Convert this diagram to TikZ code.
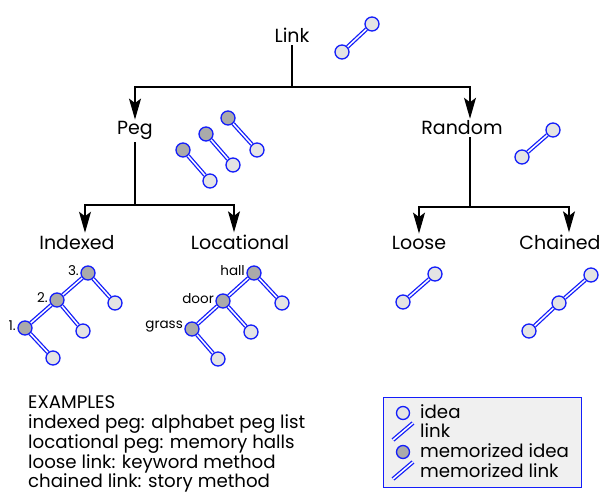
\documentclass[tikz,border=0pt]{standalone}
\usepackage{fontspec}
\setmainfont{Poppins}
\usetikzlibrary{arrows.meta}
\definecolor{ib}{RGB}{20,30,250}
\definecolor{ifill}{RGB}{228,228,228}
\definecolor{mfill}{RGB}{170,170,170}
\definecolor{lbg}{RGB}{240,240,240}
\begin{document}
\begin{tikzpicture}[x=1pt,y=-1pt,
 idea/.style={circle,draw=ib,line width=1.3pt,fill=ifill,minimum size=14pt,inner sep=0pt},
 midea/.style={idea,fill=mfill},
 lnk/.style={draw=ib,double=white,double distance=1.5pt,line width=1.3pt},
 lbl/.style={font=\fontsize{19}{22}\selectfont,inner sep=2pt,anchor=base},
 small/.style={font=\fontsize{13.5}{15}\selectfont,inner sep=1pt},
 leg/.style={font=\fontsize{18.2}{20}\selectfont,inner sep=0pt,anchor=base west},
 ex/.style={font=\fontsize{18.2}{20}\selectfont,inner sep=0pt,anchor=base west},
 tree/.style={line width=1.2pt,draw=black},
 arr/.style={tree,-{Stealth[length=21pt,width=12pt,inset=4.5pt]}},
]
\useasboundingbox (0,0) rectangle (613,500);

% headings
\node[lbl] (link) at (292,43) {Link};
\node[lbl] (peg) at (135,135) {Peg};
\node[lbl] (random) at (462,135) {Random};
\node[lbl] (indexed) at (77,249) {Indexed};
\node[lbl] (locational) at (240,249) {Locational};
\node[lbl] (loose) at (419,249) {Loose};
\node[lbl] (chained) at (560,249) {Chained};

% tree connectors
\coordinate (j1) at (292,87);
\coordinate (j2) at (135,205);
\coordinate (j3) at (470,207);
\draw[tree] (link) -- (j1);
\draw[arr] (j1) -| (peg);
\draw[arr] (j1) -| ([xshift=8pt]random.north);
\draw[tree] (peg) -- (j2);
\draw[arr] (j2) -| ([xshift=8pt]indexed.north);
\draw[arr] (j2) -| ([xshift=-6pt]locational.north);
\draw[tree] ([xshift=8pt]random.south) -- (j3);
\draw[arr] (j3) -| (loose);
\draw[arr] (j3) -| ([xshift=9pt]chained.north);

% link icon
\node[idea] (l1) at (342,52) {};
\node[idea] (l2) at (372,24) {};
\draw[lnk] (l1) -- (l2);

% peg icon
\node[midea] (p1a) at (183,150) {};
\node[idea] (p1b) at (210,181) {};
\node[midea] (p2a) at (206,134) {};
\node[idea] (p2b) at (233,165) {};
\node[midea] (p3a) at (228,118) {};
\node[idea] (p3b) at (257,150) {};
\draw[lnk] (p1a) -- (p1b);
\draw[lnk] (p2a) -- (p2b);
\draw[lnk] (p3a) -- (p3b);

% random icon
\node[idea] (r1) at (522,157) {};
\node[idea] (r2) at (553,130) {};
\draw[lnk] (r1) -- (r2);

% indexed tree
\node[midea] (i3) at (88,273) {};
\node[idea] (i3b) at (115,303) {};
\node[midea] (i2) at (57,300) {};
\node[idea] (i2b) at (83,331) {};
\node[midea] (i1) at (25,328) {};
\node[idea] (i1b) at (53,358) {};
\draw[lnk] (i3) -- (i2);
\draw[lnk] (i2) -- (i1);
\draw[lnk] (i3) -- (i3b);
\draw[lnk] (i2) -- (i2b);
\draw[lnk] (i1) -- (i1b);
\node[small,anchor=east] (t3) at (80,271) {3.};
\node[small,anchor=east] (t2) at (49,298) {2.};
\node[small,anchor=east] (t1) at (17,326) {1.};

% locational tree
\node[midea] (h) at (254,273) {};
\node[idea] (hb) at (282,303) {};
\node[midea] (d) at (223,301) {};
\node[idea] (db) at (251,332) {};
\node[midea] (g) at (192,329) {};
\node[idea] (gb) at (218,359) {};
\draw[lnk] (h) -- (d);
\draw[lnk] (d) -- (g);
\draw[lnk] (h) -- (hb);
\draw[lnk] (d) -- (db);
\draw[lnk] (g) -- (gb);
\node[small,anchor=east] (th) at (246,271) {hall};
\node[small,anchor=east] (td) at (215,299) {door};
\node[small,anchor=east] (tg) at (184,327) {grass};

% loose icon
\node[idea] (o1) at (403,302) {};
\node[idea] (o2) at (435,274) {};
\draw[lnk] (o1) -- (o2);

% chained icon
\node[idea] (c1) at (529,331) {};
\node[idea] (c2) at (559,303) {};
\node[idea] (c3) at (591,275) {};
\draw[lnk] (c1) -- (c2);
\draw[lnk] (c2) -- (c3);

% examples
\node[ex] (ex1) at (28,408) {EXAMPLES};
\node[ex] (ex2) at (28,428) {indexed peg: alphabet peg list};
\node[ex] (ex3) at (28,448) {locational peg: memory halls};
\node[ex] (ex4) at (28,468) {loose link: keyword method};
\node[ex] (ex5) at (28,487) {chained link: story method};

% legend
\node[draw=ib,line width=1.2pt,fill=lbg,minimum width=198pt,minimum height=90pt,anchor=north west,inner sep=0pt] (legbox) at (383,397) {};
\node[idea,minimum size=13pt] (lg1) at (403,413) {};
\node[leg] (lt1) at (420,418) {idea};
\coordinate (lk1a) at (393,440);
\coordinate (lk1b) at (413,423);
\draw[lnk] (lk1a) -- (lk1b);
\node[leg] (lt2) at (420,437) {link};
\node[midea,minimum size=13pt] (lg3) at (403,452) {};
\node[leg] (lt3) at (420,457) {memorized idea};
\coordinate (lk2a) at (393,479);
\coordinate (lk2b) at (413,462);
\draw[lnk] (lk2a) -- (lk2b);
\node[leg] (lt4) at (420,477) {memorized link};
\end{tikzpicture}
\end{document}
